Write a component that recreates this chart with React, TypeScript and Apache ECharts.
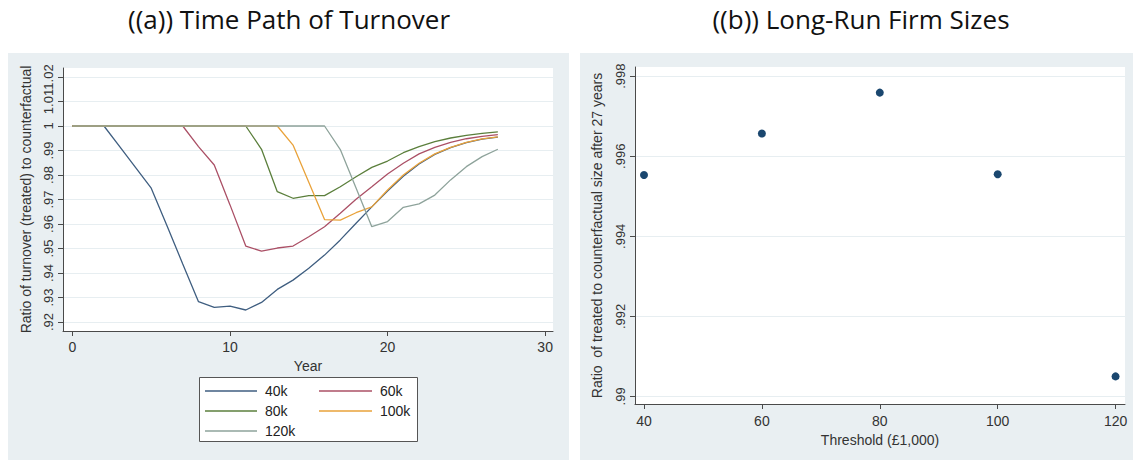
import React, { useEffect, useRef } from "react";
import * as echarts from "echarts";

// ---------- Data ----------
const years = [0, 1, 2, 3, 4, 5, 6, 7, 8, 9, 10, 11, 12, 13, 14, 15, 16, 17, 18, 19, 20, 21, 22, 23, 24, 25, 26, 27];
const turnover40k = [1, 1, 1, 0.9916, 0.9831, 0.9746, 0.9593, 0.9437, 0.9283, 0.926, 0.9265, 0.9249, 0.928, 0.9333, 0.9371, 0.9419, 0.9473, 0.9535, 0.9603, 0.967, 0.9735, 0.9795, 0.9845, 0.9884, 0.9912, 0.9932, 0.9946, 0.9955];
const turnover60k = [1, 1, 1, 1, 1, 1, 1, 1, 0.9916, 0.9841, 0.9678, 0.951, 0.9489, 0.9502, 0.951, 0.9548, 0.9589, 0.9644, 0.9701, 0.9752, 0.9804, 0.9848, 0.9886, 0.9913, 0.9933, 0.9948, 0.9958, 0.9965];
const turnover80k = [1, 1, 1, 1, 1, 1, 1, 1, 1, 1, 1, 1, 0.9905, 0.9732, 0.9705, 0.9716, 0.9716, 0.9752, 0.9793, 0.9831, 0.9857, 0.9891, 0.9916, 0.9936, 0.9951, 0.9962, 0.997, 0.9976];
const turnover100k = [1, 1, 1, 1, 1, 1, 1, 1, 1, 1, 1, 1, 1, 1, 0.9922, 0.977, 0.9618, 0.9616, 0.9646, 0.967, 0.9739, 0.98, 0.9848, 0.9886, 0.9913, 0.9933, 0.9947, 0.9956];
const turnover120k = [1, 1, 1, 1, 1, 1, 1, 1, 1, 1, 1, 1, 1, 1, 1, 1, 1, 0.9904, 0.9747, 0.9589, 0.961, 0.9668, 0.9682, 0.9718, 0.978, 0.9834, 0.9875, 0.9905];
const seriesNames = ["40k", "60k", "80k", "100k", "120k"];
const seriesColors = ["#3f5e80", "#ab5066", "#5b7f3c", "#e9a23a", "#8ea39b"];
const yearTicks = [0, 10, 20, 30];
const turnoverTicks = [0.92, 0.93, 0.94, 0.95, 0.96, 0.97, 0.98, 0.99, 1, 1.01, 1.02];
const turnoverTickLabels = [".92", ".93", ".94", ".95", ".96", ".97", ".98", ".99", "1", "1.01", "1.02"];

const thresholds = [40, 60, 80, 100, 120];
const firmSizeRatio = [0.99553, 0.99657, 0.99759, 0.99555, 0.9905];
const sizeTicks = [0.99, 0.992, 0.994, 0.996, 0.998];
const sizeTickLabels = [".99", ".992", ".994", ".996", ".998"];

const AXIS_FONT = "'Liberation Sans', Arial, sans-serif";
const TITLE_FONT = "'Open Sans', 'Noto Sans', sans-serif";
const PANEL_BG = "#e9eff2";
const GRID_LINE = "#e7eef1";
const AXIS_COLOR = "#4a4a4a";

function labelFor(ticks: number[], labels: string[]) {
  return (v: number) => {
    const i = ticks.findIndex((t) => Math.abs(t - v) < 1e-7);
    return i >= 0 ? labels[i] : "";
  };
}

export default function App() {
  const ref = useRef<HTMLDivElement>(null);
  useEffect(() => {
    if (!ref.current) return;
    const chart = echarts.init(ref.current, undefined, { renderer: "svg" });
    const turnoverData = [turnover40k, turnover60k, turnover80k, turnover100k, turnover120k];

    const axisText = { color: "#333", fontFamily: AXIS_FONT, fontSize: 13 };
    const legendText = { color: "#222", fontFamily: AXIS_FONT, fontSize: 14, lineHeight: 14, padding: [0, 0, 0, 3] };
    const yMin = 0.91633;
    const yMax = 1.02367;
    // the top label overlaps its neighbour as in the original; it sits on an overlay axis
    const mainLabelTicks = turnoverTicks.slice(0, -1);
    const topLabelTicks = turnoverTicks.slice(-1);

    const option: any = {
      animation: false,
      backgroundColor: "#ffffff",
      graphic: [
        { type: "rect", z: -10, shape: { x: 8, y: 53, width: 561, height: 407 }, style: { fill: PANEL_BG } },
        { type: "rect", z: -10, shape: { x: 580, y: 53, width: 553, height: 407 }, style: { fill: PANEL_BG } },
        {
          type: "rect",
          z: 3,
          shape: { x: 199.5, y: 377.5, width: 218, height: 64 },
          style: { fill: "#ffffff", stroke: "#555", lineWidth: 1 },
        },
        {
          type: "text",
          x: 289,
          y: 19,
          style: {
            text: "((a)) Time Path of Turnover",
            fontFamily: TITLE_FONT,
            fontSize: 26,
            fill: "#111",
            align: "center",
            verticalAlign: "middle",
          },
        },
        {
          type: "text",
          x: 861,
          y: 19,
          style: {
            text: "((b)) Long-Run Firm Sizes",
            fontFamily: TITLE_FONT,
            fontSize: 26,
            fill: "#111",
            align: "center",
            verticalAlign: "middle",
          },
        },
      ],
      legend: [
        {
          data: ["40k", "80k", "120k"],
          orient: "vertical",
          left: 205,
          top: 384,
          padding: 0,
          icon: "rect",
          itemWidth: 52,
          itemHeight: 1.4,
          itemGap: 6,
          z: 5,
          textStyle: legendText,
        },
        {
          data: ["60k", "100k"],
          orient: "vertical",
          left: 319,
          top: 384,
          padding: 0,
          icon: "rect",
          itemWidth: 53,
          itemHeight: 1.4,
          itemGap: 6,
          z: 5,
          textStyle: legendText,
        },
      ],
      grid: [
        { left: 63, top: 68, width: 490, height: 263, show: true, backgroundColor: "#ffffff", borderWidth: 0 },
        { left: 635, top: 67, width: 490, height: 337, show: true, backgroundColor: "#ffffff", borderWidth: 0 },
      ],
      xAxis: [
        {
          type: "value",
          gridIndex: 0,
          min: -0.6,
          max: 30.5,
          name: "Year",
          nameLocation: "middle",
          nameGap: 24,
          nameTextStyle: { ...axisText, fontSize: 14 },
          axisLine: { show: true, onZero: false, lineStyle: { color: AXIS_COLOR, width: 1 } },
          axisTick: { show: true, length: 5, customValues: yearTicks, lineStyle: { color: AXIS_COLOR } },
          axisLabel: { customValues: yearTicks, margin: 9, ...axisText, fontSize: 14 },
          splitLine: { show: false },
        },
        {
          type: "value",
          gridIndex: 1,
          min: 38.47,
          max: 121.6,
          name: "Threshold (£1,000)",
          nameLocation: "middle",
          nameGap: 29,
          nameTextStyle: { ...axisText, fontSize: 14 },
          axisLine: { show: true, onZero: false, lineStyle: { color: AXIS_COLOR, width: 1 } },
          axisTick: { show: true, length: 5, customValues: thresholds, lineStyle: { color: AXIS_COLOR } },
          axisLabel: { customValues: thresholds, margin: 10, ...axisText, fontSize: 14 },
          splitLine: { show: false },
        },
      ],
      yAxis: [
        {
          type: "value",
          gridIndex: 0,
          position: "left",
          min: yMin,
          max: yMax,
          name: "Ratio of turnover (treated) to counterfactual",
          nameLocation: "middle",
          nameGap: 30,
          nameRotate: 90,
          nameTextStyle: { ...axisText, fontSize: 14 },
          axisLine: { show: true, onZero: false, lineStyle: { color: AXIS_COLOR, width: 1 } },
          axisTick: { show: true, length: 5, customValues: turnoverTicks, lineStyle: { color: AXIS_COLOR } },
          axisLabel: {
            customValues: mainLabelTicks,
            rotate: 90,
            margin: 8,
            hideOverlap: false,
            ...axisText,
            formatter: labelFor(turnoverTicks, turnoverTickLabels),
          },
          splitLine: { show: true, lineStyle: { color: GRID_LINE, width: 1 } },
        },
        {
          type: "value",
          gridIndex: 1,
          min: 0.98981,
          max: 0.99823,
          name: "Ratio  of treated to counterfactual size after 27 years",
          nameLocation: "middle",
          nameGap: 31,
          nameRotate: 90,
          nameTextStyle: { ...axisText, fontSize: 14 },
          axisLine: { show: true, onZero: false, lineStyle: { color: AXIS_COLOR, width: 1 } },
          axisTick: { show: true, length: 5, customValues: sizeTicks, lineStyle: { color: AXIS_COLOR } },
          axisLabel: {
            customValues: sizeTicks,
            rotate: 90,
            margin: 8,
            hideOverlap: false,
            showMaxLabel: true,
            showMinLabel: true,
            ...axisText,
            formatter: labelFor(sizeTicks, sizeTickLabels),
          },
          splitLine: { show: true, lineStyle: { color: GRID_LINE, width: 1 } },
        },
        {
          type: "value",
          gridIndex: 0,
          position: "left",
          offset: 0,
          min: yMin,
          max: yMax,
          axisLine: { show: false },
          axisTick: { show: false },
          splitLine: { show: false },
          axisLabel: {
            customValues: topLabelTicks,
            rotate: 90,
            margin: 8,
            ...axisText,
            formatter: labelFor(turnoverTicks, turnoverTickLabels),
          },
        },
      ],
      series: [
        ...seriesNames.map((name, k) => ({
          name,
          type: "line",
          xAxisIndex: 0,
          yAxisIndex: 0,
          symbol: "none",
          color: seriesColors[k],
          itemStyle: { color: seriesColors[k] },
          lineStyle: { color: seriesColors[k], width: 1.3 },
          data: years.map((y, i) => [y, turnoverData[k][i]]),
        })),
        {
          name: "Firm size ratio",
          type: "scatter",
          xAxisIndex: 1,
          yAxisIndex: 1,
          symbol: "circle",
          symbolSize: 8,
          itemStyle: { color: "#1a476f", opacity: 1 },
          data: thresholds.map((t, i) => [t, firmSizeRatio[i]]),
        },
      ],
    };
    chart.setOption(option);
    return () => chart.dispose();
  }, []);

  return (
    <div
      ref={ref}
      style={{ position: "fixed", left: 0, top: 0, width: 1133, height: 460 }}
    />
  );
}
